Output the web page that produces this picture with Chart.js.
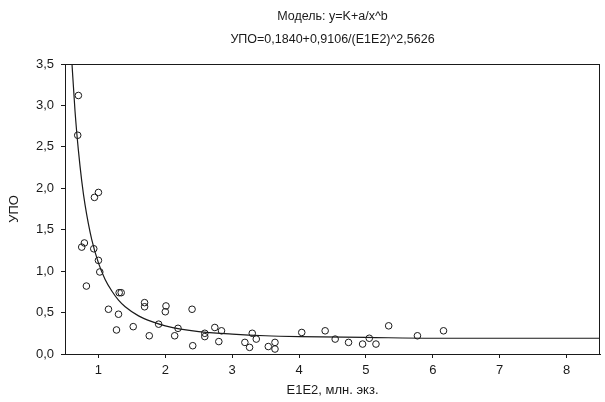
<!DOCTYPE html>
<html>
<head>
<meta charset="utf-8">
<script src="https://cdn.jsdelivr.net/npm/chart.js@4.4.1/dist/chart.umd.min.js"></script>
<style>
  html, body { margin: 0; padding: 0; background: #fff; }
  #wrap { width: 605px; height: 402px; }
</style>
</head>
<body>
<div id="wrap"><canvas id="chart"></canvas></div>
<script>
// observed points (E1E2, УПО)
const obsX = [0.70, 0.69, 0.94, 1.00, 0.75, 0.79, 0.93, 1.00, 1.02, 0.82, 1.31, 1.34,
  1.15, 1.30, 1.27, 1.52, 1.69, 1.69, 1.76, 1.90, 2.01, 2.00, 2.14, 2.19, 2.40, 2.41,
  2.59, 2.59, 2.74, 2.84, 2.80, 3.19, 3.30, 3.36, 3.26, 3.54, 3.64, 3.64, 4.04, 4.39,
  4.54, 4.74, 4.95, 5.05, 5.15, 5.34, 5.77, 6.16];
const obsY = [3.12, 2.64, 1.89, 1.95, 1.29, 1.34, 1.27, 1.13, 0.99, 0.82, 0.74, 0.74,
  0.54, 0.48, 0.29, 0.33, 0.62, 0.57, 0.22, 0.36, 0.58, 0.51, 0.22, 0.31, 0.54, 0.10,
  0.25, 0.21, 0.32, 0.28, 0.15, 0.14, 0.25, 0.18, 0.08, 0.09, 0.14, 0.06, 0.26, 0.28,
  0.18, 0.14, 0.12, 0.19, 0.12, 0.34, 0.22, 0.28];

// fitted curve
const fitX = [0.60, 0.65, 0.70, 0.75, 0.80, 0.90, 1.00, 1.10, 1.20, 1.30, 1.40, 1.60,
  1.80, 2.00, 2.50, 3.00, 3.50, 4.00, 5.00, 6.00, 7.00, 8.00, 8.50];
const fitY = [3.56, 2.93, 2.46, 2.09, 1.80, 1.38, 1.10, 0.90, 0.76, 0.65, 0.57, 0.46,
  0.39, 0.34, 0.27, 0.24, 0.22, 0.21, 0.20, 0.19, 0.19, 0.19, 0.19];

const xTicks = [1, 2, 3, 4, 5, 6, 7, 8];
const titleLines = ['Модель: y=K+a/x^b', 'УПО=0,1840+0,9106/(E1E2)^2,5626'];

const ink = '#1a1a1a';
const fontFam = '"Liberation Sans", Arial, sans-serif';

// frame round the plot + the two-line title centred over the plot area
const frame = {
  id: 'frame',
  afterDraw(chart) {
    const { ctx, chartArea: a } = chart;
    ctx.save();
    ctx.strokeStyle = ink;
    ctx.lineWidth = 1;
    ctx.strokeRect(a.left + 0.5, a.top + 0.5, a.right - a.left - 1, a.bottom - a.top);
    ctx.fillStyle = ink;
    ctx.font = '12.5px ' + fontFam;
    ctx.textAlign = 'center';
    ctx.textBaseline = 'middle';
    const cx = (a.left + a.right) / 2;
    ctx.fillText(titleLines[0], cx, 17);
    ctx.fillText(titleLines[1], cx, 40);
    ctx.restore();
  }
};

new Chart(document.getElementById('chart'), {
  type: 'scatter',
  data: {
    datasets: [
      {
        data: obsX.map((x, i) => ({ x: x, y: obsY[i] })),
        pointStyle: 'circle',
        pointRadius: 3.3,
        pointBorderWidth: 1,
        pointBorderColor: ink,
        pointBackgroundColor: 'rgba(0,0,0,0)',
        showLine: false
      },
      {
        data: fitX.map((x, i) => ({ x: x, y: fitY[i] })),
        showLine: true,
        borderColor: ink,
        borderWidth: 1.2,
        pointRadius: 0,
        cubicInterpolationMode: 'monotone'
      }
    ]
  },
  options: {
    responsive: true,
    maintainAspectRatio: false,
    animation: false,
    layout: { padding: { left: 0, right: 2, top: 64, bottom: 0 } },
    plugins: {
      legend: { display: false },
      tooltip: { enabled: false },
      title: { display: false }
    },
    scales: {
      x: {
        type: 'linear',
        min: 0.5,
        max: 8.5,
        afterBuildTicks: (s) => { s.ticks = xTicks.map(v => ({ value: v })); },
        afterFit: (s) => { s.height = 48; },
        ticks: {
          color: ink,
          padding: 5,
          font: { family: fontFam, size: 13 },
          callback: (v) => String(v)
        },
        grid: { drawOnChartArea: false, drawTicks: true, tickLength: 4, color: ink },
        border: { color: ink },
        title: {
          display: true,
          text: 'E1E2, млн. экз.',
          color: ink,
          font: { family: fontFam, size: 13 },
          padding: { top: 0, bottom: 4 }
        }
      },
      y: {
        min: 0,
        max: 3.5,
        afterFit: (s) => { s.width = 65; },
        ticks: {
          stepSize: 0.5,
          color: ink,
          padding: 7,
          font: { family: fontFam, size: 13 },
          callback: (v) => v.toFixed(1).replace('.', ',')
        },
        grid: { drawOnChartArea: false, drawTicks: true, tickLength: 4, color: ink },
        border: { color: ink },
        title: {
          display: true,
          text: 'УПО',
          color: ink,
          font: { family: fontFam, size: 13 },
          padding: { top: 7, bottom: 0 }
        }
      }
    }
  },
  plugins: [frame]
});
</script>
</body>
</html>
